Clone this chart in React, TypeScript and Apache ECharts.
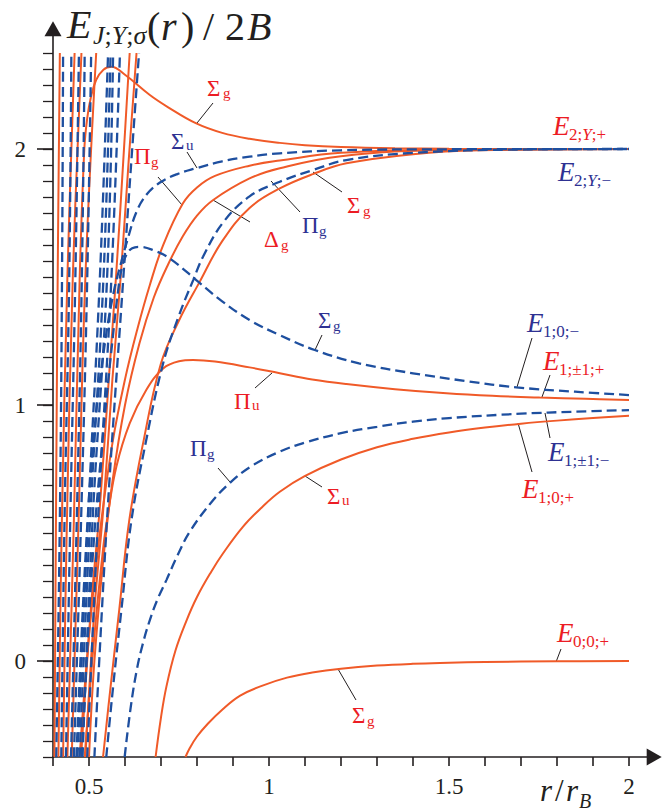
import React, { useEffect, useRef } from "react";
import * as echarts from "echarts";

type Pt = [number, number];

// ---------- axis ticks ----------
const xTickValues = [0.4, 0.5, 0.6, 0.7, 0.8, 0.9, 1.0, 1.1, 1.2, 1.3, 1.4, 1.5, 1.6, 1.7, 1.8, 1.9, 2.0];
const xTickLabels = [0.5, 1, 1.5, 2];
const yMajorTicks = [0, 1, 2];
const yMinorTicks = Array.from({ length: 45 }, (_, i) => -0.375 + i * 0.0625);

// ---------- asymptote 0 ----------
const e00pSigmaG: Pt[] = [[0.768, -0.375], [0.78, -0.34], [0.8, -0.295], [0.83, -0.245], [0.87, -0.19], [0.92, -0.135], [0.98, -0.097], [1.05, -0.065], [1.12, -0.045], [1.2, -0.03], [1.3, -0.018], [1.4, -0.011], [1.5, -0.007], [1.6, -0.004], [1.8, -0.001], [2.0, 0]];

// ---------- asymptote 1 ----------
const e10pSigmaU: Pt[] = [[0.685, -0.375], [0.7, -0.22], [0.715, -0.1], [0.74, 0.04], [0.77, 0.155], [0.8, 0.25], [0.84, 0.35], [0.872, 0.42], [0.928, 0.525], [0.98, 0.6], [1.03, 0.661], [1.099, 0.722], [1.2, 0.787], [1.3, 0.835], [1.4, 0.868], [1.5, 0.893], [1.6, 0.912], [1.7, 0.927], [1.8, 0.939], [1.9, 0.949], [2.0, 0.958]];
const e1pm1mPiG: Pt[] = [[0.599, -0.375], [0.615, -0.19], [0.632, -0.04], [0.65, 0.07], [0.669, 0.16], [0.69, 0.24], [0.715, 0.316], [0.745, 0.41], [0.78, 0.505], [0.84, 0.62], [0.891, 0.695], [0.95, 0.76], [1.03, 0.818], [1.1, 0.853], [1.2, 0.89], [1.3, 0.915], [1.4, 0.935], [1.5, 0.949], [1.7, 0.966], [1.85, 0.974], [2.0, 0.98]];
const e1pm1pPiU: Pt[] = [[0.488, -0.375], [0.515, 0.1], [0.54, 0.45], [0.553, 0.577], [0.576, 0.759], [0.613, 0.928], [0.659, 1.059], [0.706, 1.143], [0.75, 1.171], [0.789, 1.176], [0.85, 1.17], [0.946, 1.147], [1.03, 1.124], [1.12, 1.1], [1.215, 1.082], [1.35, 1.062], [1.493, 1.046], [1.62, 1.036], [1.752, 1.029], [1.88, 1.024], [2.0, 1.02]];
const e10mSigmaG: Pt[] = [[0.48, -0.375], [0.51, 0.4], [0.54, 0.9], [0.565, 1.25], [0.583, 1.47], [0.592, 1.54], [0.605, 1.59], [0.62, 1.612], [0.641, 1.618], [0.68, 1.604], [0.724, 1.573], [0.798, 1.488], [0.87, 1.405], [0.946, 1.332], [1.03, 1.273], [1.127, 1.215], [1.25, 1.163], [1.4, 1.124], [1.55, 1.093], [1.687, 1.069], [1.85, 1.052], [2.0, 1.039]];

// ---------- asymptote 2 ----------
const e2pSigmaGUpper: Pt[] = [[0.44, -0.375], [0.458, 0.55], [0.474, 1.49], [0.487, 2.0], [0.495, 2.12], [0.505, 2.2], [0.52, 2.27], [0.54, 2.31], [0.562, 2.321], [0.6, 2.29], [0.669, 2.211], [0.72, 2.163], [0.798, 2.1], [0.87, 2.063], [0.946, 2.04], [1.03, 2.024], [1.1, 2.015], [1.2, 2.008], [1.35, 2.003], [1.5, 2.001], [2.0, 2.0]];
const e2mSigmaU: Pt[] = [[0.465, -0.375], [0.49, 0.4], [0.515, 0.9], [0.545, 1.25], [0.57, 1.45], [0.59, 1.56], [0.608, 1.651], [0.632, 1.755], [0.66, 1.822], [0.696, 1.868], [0.745, 1.902], [0.798, 1.925], [0.87, 1.952], [0.946, 1.97], [1.03, 1.983], [1.2, 1.995], [1.5, 1.999], [2.0, 2.0]];
const e2pPiG: Pt[] = [[0.474, -0.375], [0.5, 0.1], [0.53, 0.5], [0.565, 0.85], [0.6, 1.1], [0.635, 1.3], [0.669, 1.469], [0.706, 1.625], [0.761, 1.788], [0.8, 1.85], [0.85, 1.895], [0.946, 1.935], [1.03, 1.955], [1.2, 1.985], [1.5, 1.998], [2.0, 2.0]];
const e2pDeltaG: Pt[] = [[0.5, -0.375], [0.515, 0.0], [0.54, 0.4], [0.565, 0.7], [0.6, 1.0], [0.64, 1.24], [0.68, 1.42], [0.72, 1.55], [0.761, 1.66], [0.8, 1.74], [0.844, 1.8], [0.946, 1.885], [1.03, 1.925], [1.2, 1.972], [1.5, 1.996], [2.0, 2.0]];
const e2mPiG: Pt[] = [[0.548, -0.375], [0.567, -0.1], [0.59, 0.2], [0.618, 0.551], [0.659, 0.863], [0.706, 1.163], [0.75, 1.35], [0.79, 1.49], [0.817, 1.58], [0.872, 1.712], [0.946, 1.815], [1.03, 1.872], [1.122, 1.918], [1.215, 1.957], [1.4, 1.985], [1.7, 1.998], [2.0, 2.0]];
const e2pSigmaGLower: Pt[] = [[0.539, -0.375], [0.56, -0.1], [0.584, 0.2], [0.612, 0.551], [0.652, 0.863], [0.7, 1.163], [0.75, 1.33], [0.807, 1.48], [0.87, 1.64], [0.946, 1.77], [1.03, 1.846], [1.122, 1.902], [1.215, 1.944], [1.4, 1.98], [1.585, 1.995], [2.0, 2.0]];

// ---------- steep curves of higher asymptotes ----------
const steepRed: Pt[][] = [
  [[0.404, -0.375], [0.408, 0.5], [0.413, 1.5], [0.419, 2.375]],
  [[0.415, -0.375], [0.424, 0.5], [0.44, 1.5], [0.46, 2.375]],
  [[0.428, -0.375], [0.438, 0.5], [0.455, 1.5], [0.479, 2.375]],
  [[0.452, -0.375], [0.47, 0.5], [0.49, 1.5], [0.52, 2.375]],
  [[0.478, -0.375], [0.505, 0.2], [0.53, 0.6], [0.555, 1.1], [0.575, 1.5], [0.595, 1.95], [0.613, 2.375]],
  [[0.49, -0.375], [0.515, 0.2], [0.54, 0.6], [0.565, 1.1], [0.588, 1.5], [0.61, 1.95], [0.632, 2.375]],
];
const steepBlue: Pt[][] = [
  [[0.409, -0.375], [0.419, 0.55], [0.425, 1.49], [0.428, 2.375]],
  [[0.423, -0.375], [0.432, 0.55], [0.445, 1.49], [0.451, 2.375]],
  [[0.436, -0.375], [0.448, 0.55], [0.462, 1.49], [0.472, 2.375]],
  [[0.45, -0.375], [0.466, 0.55], [0.48, 1.49], [0.488, 2.375]],
  [[0.458, -0.375], [0.478, 0.55], [0.495, 1.49], [0.506, 2.375]],
  [[0.468, -0.375], [0.497, 0.55], [0.53, 1.49], [0.553, 2.375]],
  [[0.474, -0.375], [0.503, 0.55], [0.54, 1.49], [0.56, 2.375]],
  [[0.482, -0.375], [0.51, 0.55], [0.55, 1.49], [0.567, 2.375]],
  [[0.495, -0.375], [0.525, 0.55], [0.562, 1.49], [0.586, 2.375]],
  [[0.515, -0.375], [0.55, 0.55], [0.595, 1.49], [0.615, 1.9], [0.639, 2.375]],
];

const RED = "#f05a28";
const BLUE = "#1e4f9f";
const LRED = "#ec1c24";
const LBLUE = "#2e3192";
const INK = "#231f20";
const FONT = '"Liberation Serif", "DejaVu Serif", serif';

function curve(name: string, data: Pt[], dashed: boolean) {
  return {
    name,
    type: "line",
    data,
    symbol: "none",
    showSymbol: false,
    smooth: 0.4,
    clip: true,
    silent: true,
    z: dashed ? 3 : 2,
    lineStyle: {
      color: dashed ? BLUE : RED,
      width: dashed ? 2.3 : 2,
      type: dashed ? [10, 5] : "solid",
    },
  };
}

function richStyles(size: number, color: string) {
  return {
    u: { fontFamily: FONT, fontSize: size, fill: color },
    i: { fontFamily: FONT, fontSize: size, fill: color, fontStyle: "italic" },
  };
}

function txt(x: number, cy: number, text: string, size: number, color: string, italic = false) {
  return {
    type: "text",
    x,
    y: cy,
    silent: true,
    style: { text, fill: color, fontFamily: FONT, fontSize: size, fontStyle: italic ? "italic" : "normal", align: "left", verticalAlign: "middle" },
  };
}

// label: main glyph + subscript
function label(x: number, cy: number, main: string, sub: string, color: string, opts: any = {}) {
  const mSize = opts.mSize ?? 23;
  const sSize = opts.sSize ?? 15;
  const mItalic = opts.mItalic ?? false;
  const sx = opts.sx ?? x + 14;
  const sdy = opts.sdy ?? 6;
  return [
    txt(x, cy, main, mSize, color, mItalic),
    {
      type: "text",
      x: sx,
      y: cy + sdy,
      silent: true,
      style: { text: sub, fill: color, fontFamily: FONT, fontSize: sSize, align: "left", verticalAlign: "middle", rich: richStyles(sSize, color) },
    },
  ];
}

function eLabel(x: number, cy: number, sub: string, color: string) {
  return label(x, cy, "E", sub, color, { mSize: 27, mItalic: true, sx: x + 16, sdy: 8, sSize: 17 });
}

function leader(x1: number, y1: number, x2: number, y2: number) {
  return { type: "line", silent: true, shape: { x1, y1, x2, y2 }, style: { stroke: INK, lineWidth: 1 } };
}

export default function App() {
  const ref = useRef<HTMLDivElement>(null);
  useEffect(() => {
    document.body.style.margin = "0";
    if (!ref.current) return;
    const chart = echarts.init(ref.current, undefined, { renderer: "svg" });

    const series: any[] = [];
    steepRed.forEach((d, i) => series.push(curve("steepRed" + i, d, false)));
    series.push(curve("E00+ Σg", e00pSigmaG, false));
    series.push(curve("E10+ Σu", e10pSigmaU, false));
    series.push(curve("E1±1+ Πu", e1pm1pPiU, false));
    series.push(curve("E2+ Σg upper", e2pSigmaGUpper, false));
    series.push(curve("E2+ Πg", e2pPiG, false));
    series.push(curve("E2+ Δg", e2pDeltaG, false));
    series.push(curve("E2+ Σg lower", e2pSigmaGLower, false));
    steepBlue.forEach((d, i) => series.push(curve("steepBlue" + i, d, true)));
    series.push(curve("E1±1- Πg", e1pm1mPiG, true));
    series.push(curve("E10- Σg", e10mSigmaG, true));
    series.push(curve("E2- Σu", e2mSigmaU, true));
    series.push(curve("E2- Πg", e2mPiG, true));

    const graphic: any[] = [
      // title E_{J;Y;σ}(r)/2B
      txt(67, 24, "E", 40, INK, true),
      { type: "text", x: 93, y: 35, silent: true, style: { text: "{i|J}{u|;}{i|Y}{u|;}{i|σ}", fill: INK, fontSize: 26, align: "left", verticalAlign: "middle", rich: richStyles(26, INK) } },
      txt(147, 26, "(", 40, INK),
      txt(161, 26, "r", 40, INK, true),
      txt(181, 26, ")", 40, INK),
      txt(203, 26, "/", 40, INK),
      txt(225, 26, "2", 40, INK),
      txt(247, 26, "B", 40, INK, true),
      // x axis name r/r_B
      txt(540, 790, "r", 31, INK, true),
      txt(555, 790, "/", 31, INK),
      txt(566, 790, "r", 31, INK, true),
      txt(579, 801, "B", 20, INK, true),

      ...label(207, 88, "Σ", "g", LRED, { sx: 223, sdy: 5 }),
      ...eLabel(553, 126, "{u|2;}{i|Y}{u|;+}", LRED),
      ...eLabel(558, 172, "{u|2;}{i|Y}{u|;−}", LBLUE),
      ...label(347, 205, "Σ", "g", LRED, { sx: 363 }),
      ...label(302, 225, "Π", "g", LBLUE, { sx: 319 }),
      ...label(264, 239, "Δ", "g", LRED, { sx: 281 }),
      ...label(134, 156, "Π", "g", LRED, { sx: 151 }),
      ...label(171, 141, "Σ", "u", LBLUE, { sx: 186, sdy: 4 }),
      ...label(318, 320, "Σ", "g", LBLUE, { sx: 333 }),
      ...eLabel(527, 323, "{u|1;0;−}", LBLUE),
      ...eLabel(543, 361, "{u|1;±1;+}", LRED),
      ...eLabel(548, 452, "{u|1;±1;−}", LBLUE),
      ...eLabel(522, 489, "{u|1;0;+}", LRED),
      ...label(327, 496, "Σ", "u", LRED, { sx: 342, sdy: 4 }),
      ...label(234, 401, "Π", "u", LRED, { sx: 252, sdy: 4 }),
      ...label(190, 448, "Π", "g", LBLUE, { sx: 207 }),
      ...label(352, 715, "Σ", "g", LRED, { sx: 367 }),
      ...eLabel(557, 633, "{u|0;0;+}", LRED),

      leader(213, 103, 197, 123),
      leader(342, 192, 313, 172),
      leader(300, 212, 271, 181),
      leader(250, 222, 213, 200),
      leader(158, 177, 182, 205),
      leader(187, 152, 197, 168),
      leader(322, 335, 315, 350),
      leader(532, 338, 517, 387),
      leader(550, 375, 542, 397),
      leader(550, 438, 545, 413),
      leader(532, 472, 518, 423),
      leader(322, 487, 305, 476),
      leader(255, 388, 272, 373),
      leader(218, 468, 230, 482),
      leader(356, 700, 338, 669),
      leader(561, 649, 556, 662),
    ];

    const axisLineStyle = { color: INK, width: 1.6 };
    chart.setOption({
      animation: false,
      backgroundColor: "#ffffff",
      grid: { left: 53, right: 15.8, top: 28.7, bottom: 55, containLabel: false, outerBoundsMode: "none" },
      xAxis: {
        type: "value",
        min: 0.4,
        max: 2.07,
        axisLine: { show: true, onZero: false, lineStyle: axisLineStyle, symbol: ["none", "triangle"], symbolSize: [17, 15] },
        axisTick: { show: true, customValues: xTickValues, length: 9, lineStyle: axisLineStyle },
        axisLabel: { customValues: xTickLabels, formatter: (v: number) => String(v), fontFamily: FONT, fontSize: 23, color: INK, margin: 18 },
        splitLine: { show: false },
      },
      yAxis: [
        {
          type: "value",
          min: -0.375,
          max: 2.47,
          axisLine: { show: true, onZero: false, lineStyle: axisLineStyle, symbol: ["none", "triangle"], symbolSize: [17, 15] },
          axisTick: { show: true, customValues: yMajorTicks, length: 16, lineStyle: axisLineStyle },
          axisLabel: { customValues: yMajorTicks, formatter: (v: number) => String(v), fontFamily: FONT, fontSize: 23, color: INK, margin: 27 },
          splitLine: { show: false },
        },
        {
          type: "value",
          min: -0.375,
          max: 2.47,
          position: "left",
          offset: 0,
          axisLine: { show: false },
          axisTick: { show: true, customValues: yMinorTicks, length: 10, lineStyle: { color: INK, width: 1.3 } },
          axisLabel: { show: false },
          splitLine: { show: false },
        },
      ],
      series,
      graphic,
    });
    return () => chart.dispose();
  }, []);
  return <div ref={ref} style={{ width: 670, height: 812 }} />;
}
